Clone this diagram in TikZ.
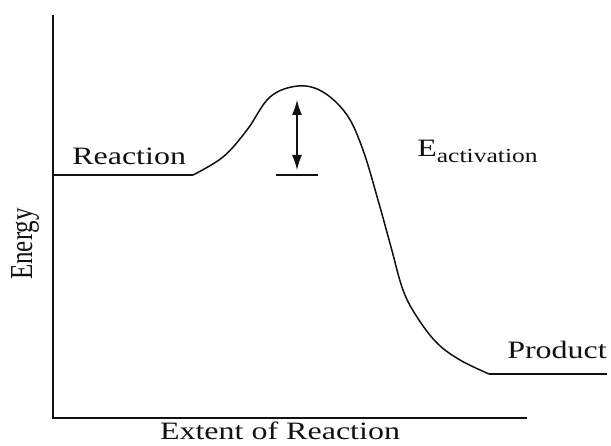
\documentclass[tikz,border=0pt]{standalone}
\usepackage{fontspec}
\setmainfont{Liberation Serif}
\usetikzlibrary{arrows.meta}
\definecolor{ink}{HTML}{111111}
\newcommand{\lbl}{\fontsize{25}{25}\selectfont}
\newcommand{\subact}[1]{\raisebox{-6pt}{\fontsize{20}{20}\selectfont #1}}

\begin{document}
\begin{tikzpicture}[x=1pt, y=-1pt,
    label/.style={font=\lbl, text=ink, inner sep=0pt, xscale=1.28},
    axis/.style={ink, line width=1.6pt},
    level/.style={ink, line width=1.3pt}]
  \useasboundingbox (0,0) rectangle (611,446);
  % axes
  \coordinate (top) at (53,15);
  \coordinate (origin) at (53,418);
  \coordinate (xend) at (527,418);
  \draw[axis] (top) -- (origin) -- (xend);
  % energy profile
  \coordinate (reacL) at (53,175);
  \coordinate (reacR) at (193,175);
  \coordinate (prodL) at (489,374);
  \coordinate (prodR) at (607,374);
  \draw[level] (reacL) -- (reacR);
  \draw[ink, line width=1.5pt] plot[smooth, tension=0.6] coordinates {
      (193,175) (223,157) (247,130) (270,97) (298,86) (323,92) (347,115)
      (363,150) (378,200) (391,247) (403,290) (417,317) (437,343) (460,360)
      (489,374)};
  \draw[level] (prodL) -- (prodR);
  % activation arrow
  \coordinate (tickL) at (276,175);
  \coordinate (tickR) at (318,175);
  \coordinate (arrT) at (297,100);
  \coordinate (arrB) at (297,170);
  \draw[level] (tickL) -- (tickR);
  \draw[ink, line width=1.3pt, {Latex[length=15pt,width=10pt]}-{Latex[length=15pt,width=10pt]}] (arrT) -- (arrB);
  % labels
  \node[label, anchor=base west] (reaction) at (72,165) {Reaction};
  \node[label, anchor=base west] (eact) at (417,157) {E\subact{activation}};
  \node[label, anchor=base west] (product) at (507,359) {Product};
  \node[label, anchor=base] (xlabel) at (280,440) {Extent of Reaction};
  \node[font=\lbl, text=ink, inner sep=0pt, xscale=1.28, rotate=90] (ylabel) at (25,244) {Energy};
\end{tikzpicture}
\end{document}
